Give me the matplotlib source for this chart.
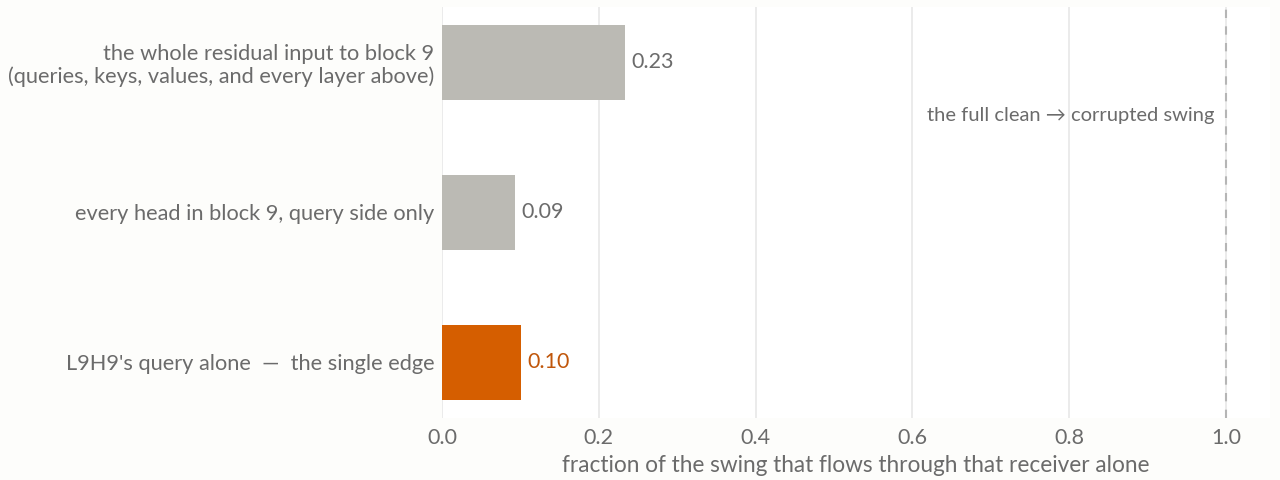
import matplotlib
matplotlib.use("Agg")
import matplotlib.pyplot as plt

# data
labels = [
    "the whole residual input to block 9\n(queries, keys, values, and every layer above)",
    "every head in block 9, query side only",
    "L9H9's query alone  \u2014  the single edge",
]
values = [0.233, 0.093, 0.101]
colors = ["#bbbab4", "#bbbab4", "#d55e00"]
value_colors = ["#6b6b6b", "#6b6b6b", "#c0560a"]
xticks = [0.0, 0.2, 0.4, 0.6, 0.8, 1.0]

TEXT = "#6b6b6b"
plt.rcParams["font.family"] = ["Lato", "DejaVu Sans"]

fig = plt.figure(figsize=(12.8, 4.8), dpi=100, facecolor="#fdfdfb")
ax = fig.add_axes([442 / 1280, 1 - 418 / 480, (1270 - 442) / 1280, (418 - 7) / 480])
ax.set_facecolor("white")

y = list(range(len(labels)))
ax.barh(y, values, height=0.5, color=colors, zorder=3)
for yi, v, c in zip(y, values, value_colors):
    ax.text(v + 0.008, yi, f"{v:.2f}", va="center", ha="left", fontsize=15.5, color=c)

ax.axvline(1.0, color="#b5b5b5", linestyle=(0, (4, 4)), linewidth=1.5, zorder=2)
ax.text(0.985, 0.35, "the full clean \u2192 corrupted swing", ha="right", va="center",
        fontsize=14.5, color=TEXT)

ax.set_xlim(0, 1.056)
ax.set_ylim(2.37, -0.37)
ax.set_yticks(y)
ax.set_yticklabels(labels, fontsize=15.7, color=TEXT, linespacing=1.15)
ax.set_xticks(xticks)
ax.set_xticklabels([f"{t:.1f}" for t in xticks], fontsize=15.5, color=TEXT)
ax.tick_params(axis="y", length=0, pad=5.5)
ax.tick_params(axis="x", length=0, pad=7)
ax.grid(axis="x", color="#e8e8e8", linewidth=1.2, zorder=0)
for s in ax.spines.values():
    s.set_visible(False)
ax.set_xlabel("fraction of the swing that flows through that receiver alone",
              fontsize=16.3, color=TEXT, labelpad=5)

fig.savefig("out.png", dpi=100, facecolor=fig.get_facecolor())
